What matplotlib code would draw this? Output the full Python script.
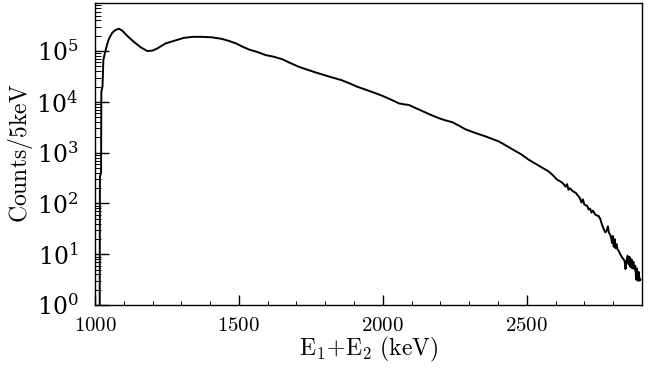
import numpy as np
import matplotlib
matplotlib.use("Agg")
import matplotlib.pyplot as plt
from matplotlib.ticker import LogLocator, LogFormatterMathtext, MultipleLocator, NullFormatter

plt.rcParams["mathtext.fontset"] = "cm"
plt.rcParams["font.family"] = "serif"
plt.rcParams["font.serif"] = ["DejaVu Serif"]

# ── Spectre E1+E2 ────────────────────────────────────────────────────────────
energy = [1016, 1017, 1021, 1022, 1026, 1029, 1033, 1037, 1043, 1049, 1060, 1070,
          1083, 1095, 1110, 1135, 1160, 1182, 1200, 1216, 1245, 1280, 1309, 1340,
          1370, 1407, 1440, 1465, 1490, 1511, 1535, 1565, 1593, 1620, 1650, 1680,
          1708, 1740, 1766, 1795, 1824, 1855, 1882, 1910, 1940, 1970, 1998, 2030,
          2056, 2075, 2090, 2105, 2125, 2160, 2194, 2215, 2241, 2265, 2287, 2320,
          2357, 2380, 2403, 2425, 2449, 2480, 2507, 2540, 2576, 2590, 2605, 2615,
          2625, 2635, 2640, 2645, 2650, 2660, 2670, 2680, 2685, 2690, 2695, 2700,
          2710, 2715, 2720, 2725, 2730, 2738, 2745, 2750, 2755, 2761, 2767, 2773,
          2778, 2782, 2785, 2790, 2793, 2796, 2799, 2802, 2805, 2808, 2812, 2815,
          2819, 2825, 2831, 2836, 2840, 2843, 2846, 2850, 2854, 2857, 2860, 2864,
          2867, 2871, 2875, 2877, 2880, 2883, 2886, 2889, 2892, 2895]
log_counts = [-1.0, 2.53, 2.60, 4.20, 4.30, 4.82, 4.93, 5.02, 5.15, 5.25, 5.36, 5.41,
              5.44, 5.40, 5.31, 5.18, 5.07, 5.00, 5.01, 5.05, 5.15, 5.21, 5.26, 5.28,
              5.28, 5.27, 5.24, 5.20, 5.15, 5.09, 5.03, 4.98, 4.92, 4.89, 4.84, 4.76,
              4.69, 4.63, 4.58, 4.53, 4.48, 4.43, 4.37, 4.30, 4.24, 4.18, 4.12, 4.04,
              3.97, 3.95, 3.94, 3.90, 3.85, 3.76, 3.68, 3.64, 3.60, 3.53, 3.46, 3.39,
              3.32, 3.27, 3.22, 3.15, 3.07, 2.97, 2.86, 2.75, 2.63, 2.56, 2.47, 2.44,
              2.40, 2.33, 2.38, 2.27, 2.30, 2.24, 2.21, 2.14, 2.10, 2.02, 2.08, 1.98,
              1.95, 1.88, 1.90, 1.82, 1.86, 1.78, 1.76, 1.75, 1.70, 1.59, 1.50, 1.43,
              1.47, 1.55, 1.43, 1.38, 1.33, 1.22, 1.36, 1.15, 1.30, 1.12, 1.20, 1.10,
              1.07, 1.00, 0.94, 0.90, 0.87, 0.71, 0.85, 0.97, 0.80, 0.95, 0.75, 0.90,
              0.72, 0.85, 0.70, 0.77, 0.50, 0.72, 0.48, 0.65, 0.48, 0.50]

counts = 10 ** np.array(log_counts)

fig = plt.figure(figsize=(6.53, 3.68), dpi=100)
ax = fig.add_axes([0.1455, 0.171, 0.8375, 0.822])

ax.plot(energy, counts, color="black", lw=1.4)

ax.set_yscale("log")
ax.set_xlim(1000, 2900)
ax.set_ylim(1, 9e5)

ax.yaxis.set_major_locator(LogLocator(base=10, numticks=10))
ax.yaxis.set_minor_locator(LogLocator(base=10, subs=np.arange(2, 10), numticks=20))
ax.yaxis.set_major_formatter(LogFormatterMathtext())
ax.yaxis.set_minor_formatter(NullFormatter())
ax.xaxis.set_major_locator(MultipleLocator(500))
ax.xaxis.set_minor_locator(MultipleLocator(100))
ax.xaxis.set_major_formatter(plt.FuncFormatter(lambda v, p: r"$\mathrm{%d}$" % v))

ax.tick_params(which="both", direction="in", top=False, right=False)
ax.tick_params(axis="y", which="major", length=10, width=1, labelsize=17, pad=12)
ax.tick_params(axis="y", which="minor", length=4, width=0.7)
ax.tick_params(axis="x", which="major", length=7, width=1, labelsize=15, pad=8)
ax.tick_params(axis="x", which="minor", length=3, width=0.7)

ax.set_xlabel(r"$\mathrm{E_1\!+\!E_2\ (keV)}$", fontsize=17, labelpad=0)
ax.set_ylabel(r"$\mathrm{Counts/5keV}$", fontsize=17, labelpad=1)

for s in ax.spines.values():
    s.set_linewidth(1.0)

plt.savefig("out.png", dpi=100)
